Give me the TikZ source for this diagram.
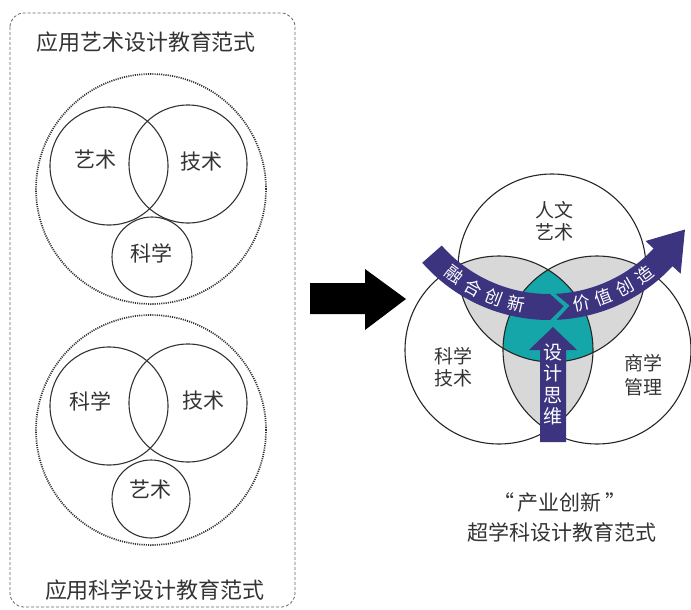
\documentclass[tikz,border=0pt]{standalone}
\usepackage{fontspec}
\setmainfont{Noto Sans CJK SC}
\usetikzlibrary{calc}
\definecolor{bandpurple}{HTML}{3D3480}
\definecolor{tealfill}{HTML}{14A6A9}
\definecolor{grayfill}{HTML}{D8D8D8}
\definecolor{txt}{HTML}{333333}
\begin{document}
\begin{tikzpicture}[x=1pt,y=-1pt,
  panelbox/.style={draw=black!60, line width=0.8pt, dash pattern=on 3pt off 2pt, rounded corners=14pt},
  dotcirc/.style={draw=black!80, line width=1.7pt, dash pattern=on 1.1pt off 1.1pt, circle, inner sep=0pt, minimum size=230pt},
  venn/.style={draw=black!80, line width=1.1pt, circle, inner sep=0pt},
  bigvenn/.style={draw=black!85, line width=1.1pt, circle, inner sep=0pt, minimum size=188pt},
  lbl/.style={font=\fontsize{21}{24}\selectfont, text=txt, inner sep=0pt},
  ttl/.style={font=\fontsize{22}{26}\selectfont, text=txt, inner sep=0pt},
  rlbl/.style={font=\fontsize{19}{22}\selectfont, text=txt, inner sep=0pt, align=center},
  band/.style={fill=bandpurple},
  btxt/.style={font=\fontsize{17.5}{20}\selectfont, text=white, inner sep=0pt}
]
\useasboundingbox (0,0) rectangle (691,610);

% ---------- left panel ----------
\draw[panelbox] (10,13) rectangle (295,607);
\node[ttl] (title1) at (146,42) {应用艺术设计教育范式};
\node[ttl] (title2) at (155,590) {应用科学设计教育范式};

% upper venn
\node[dotcirc] (d1) at (151,189) {};
\node[venn, minimum size=118pt] (a1) at (109,166) {};
\node[venn, minimum size=118pt] (t1) at (188,164) {};
\node[venn, minimum size=80pt] (s1) at (152,257) {};
\node[lbl] (la1) at (95,160) {艺术};
\node[lbl] (lt1) at (201,162) {技术};
\node[lbl] (ls1) at (151,253) {科学};

% lower venn
\node[dotcirc] (d2) at (151,430) {};
\node[venn, minimum size=118pt] (s2) at (109,406) {};
\node[venn, minimum size=118pt] (t2) at (188,403) {};
\node[venn, minimum size=78pt] (a2) at (151,499) {};
\node[lbl] (ls2) at (90,401) {科学};
\node[lbl] (lt2) at (203,401) {技术};
\node[lbl] (la2) at (150,490) {艺术};

% ---------- big arrow ----------
\fill[black] (310,283) -- (365,283) -- (365,269) -- (406,299) -- (365,330) -- (365,314) -- (310,314) -- cycle;

% ---------- right diagram ----------
\coordinate (CT) at (552,268);
\coordinate (CL) at (499,350);
\coordinate (CR) at (597,350);
\begin{scope}
  \clip (CT) circle[radius=94pt];
  \fill[grayfill] (CL) circle[radius=94pt];
  \fill[grayfill] (CR) circle[radius=94pt];
\end{scope}
\begin{scope}
  \clip (CL) circle[radius=94pt];
  \fill[grayfill] (CR) circle[radius=94pt];
\end{scope}
\begin{scope}
  \clip (CL) circle[radius=94pt];
  \clip (CR) circle[radius=94pt];
  \fill[tealfill] (CT) circle[radius=94pt];
\end{scope}
\node[bigvenn] (vt) at (CT) {};
\node[bigvenn] (vl) at (CL) {};
\node[bigvenn] (vr) at (CR) {};

% bands
\coordinate (C) at (549,151);
\fill[band] ($(C)+(138.6:169)$) arc[start angle=138.6, end angle=89.6, radius=169]
  -- ($(C)+(84.6:156)$) -- ($(C)+(89.6:143)$)
  arc[start angle=89.6, end angle=138.6, radius=143] -- cycle;
\fill[band] ($(C)+(87.4:169)$) -- ($(C)+(82.4:156)$) -- ($(C)+(87.4:143)$)
  arc[start angle=87.4, end angle=43, radius=143]
  -- ($(C)+(43:132)$) -- ($(C)+(30:157)$) -- ($(C)+(43:180)$) -- ($(C)+(43:169)$)
  arc[start angle=43, end angle=87.4, radius=169] -- cycle;
\fill[band] (540,442) -- (540,350) -- (529,350) -- (553,327) -- (577,350) -- (566,350) -- (566,442) -- cycle;

\node[btxt, rotate=-37.5] (b1) at ($(C)+(127.5:156)$) {融};
\node[btxt, rotate=-29] (b2) at ($(C)+(119:156)$) {合};
\node[btxt, rotate=-20.5] (b3) at ($(C)+(110.5:156)$) {创};
\node[btxt, rotate=-12] (b4) at ($(C)+(102:156)$) {新};
\node[btxt, rotate=12] (c1) at ($(C)+(78:156)$) {价};
\node[btxt, rotate=20.5] (c2) at ($(C)+(69.5:156)$) {值};
\node[btxt, rotate=29] (c3) at ($(C)+(61:156)$) {创};
\node[btxt, rotate=37.5] (c4) at ($(C)+(52.5:156)$) {造};
\node[btxt, font=\fontsize{19}{21.5}\selectfont, align=center] (dt) at (553,384.5) {设\\计\\思\\维};

\node[rlbl] (rt) at (554,221) {人文\\艺术};
\node[rlbl] (rl) at (453,367.5) {科学\\技术};
\node[rlbl, font=\fontsize{19}{24}\selectfont] (rr) at (643,375) {商学\\管理};

\node[lbl] (cap1) at (560,503) {“\,产业创新\,”};
\node[lbl] (cap2) at (562,532) {超学科设计教育范式};
\end{tikzpicture}
\end{document}
